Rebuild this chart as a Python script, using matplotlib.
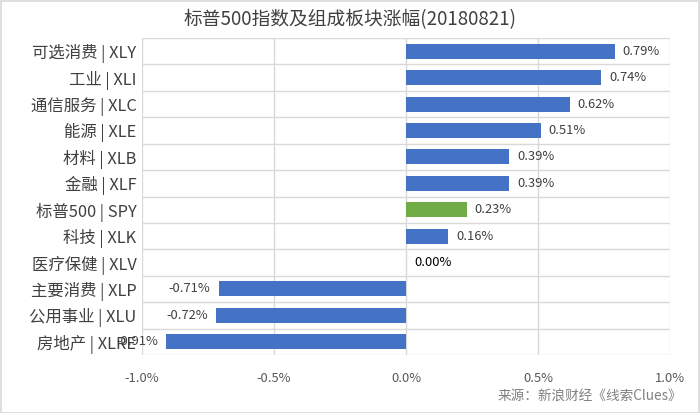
import matplotlib
matplotlib.use("Agg")
import matplotlib.pyplot as plt
from matplotlib.patches import Rectangle

plt.rcParams['font.family'] = ['Noto Sans CJK SC', 'DejaVu Sans']

categories = ["可选消费 | XLY", "工业 | XLI", "通信服务 | XLC", "能源 | XLE", "材料 | XLB",
              "金融 | XLF", "标普500 | SPY", "科技 | XLK", "医疗保健 | XLV",
              "主要消费 | XLP", "公用事业 | XLU", "房地产 | XLRE"]
values = [0.79, 0.74, 0.62, 0.51, 0.39, 0.39, 0.23, 0.16, 0.00, -0.71, -0.72, -0.91]
highlight = "标普500 | SPY"
xticks = [-1.0, -0.5, 0.0, 0.5, 1.0]
xtick_labels = ["-1.0%", "-0.5%", "0.0%", "0.5%", "1.0%"]
title = "标普500指数及组成板块涨幅(20180821)"
source = "来源：新浪财经《线索Clues》"

fig = plt.figure(figsize=(7, 4.13), dpi=100)
ax = fig.add_axes([142/700, 1-355/413, (670-142)/700, (355-38)/413])

n = len(categories)
ypos = list(range(n))
colors = ["#70AD47" if c == highlight else "#4472C4" for c in categories]
ax.barh(ypos, values, height=0.57, color=colors, zorder=3)

ax.set_xlim(-1.0, 1.0)
ax.set_ylim(n - 0.5, -0.5)
ax.set_yticks(ypos)
ax.set_yticklabels(categories, fontsize=11.8, color="#404040")
ax.set_xticks(xticks)
ax.set_xticklabels(xtick_labels, fontsize=9.3, color="#595959")
ax.tick_params(axis='both', length=0)
ax.tick_params(axis='x', pad=12)
ax.tick_params(axis='y', pad=4)
for s in ax.spines.values():
    s.set_visible(False)

grid_c = "#D9D9D9"
for xv in xticks:
    ax.axvline(xv, color=grid_c, lw=1, zorder=1)
for i in range(n + 1):
    ax.axhline(i - 0.5, color=grid_c, lw=1, zorder=1)

for y, v in zip(ypos, values):
    lab = f"{v:.2f}%"
    if v > 0:
        ax.text(v + 0.03, y, lab, va='center', ha='left', fontsize=9.3, color="#404040", zorder=4)
    elif v < 0:
        ax.text(v - 0.03, y, lab, va='center', ha='right', fontsize=9.3, color="#404040", zorder=4)
    else:
        ax.text(0.03, y, lab, va='center', ha='left', fontsize=9.3, color="#000000", zorder=4)

fig.text(0.5, 1 - 20/413, title, ha='center', va='center', fontsize=13.5, color="#404040")
fig.text(682/700, 1 - 397/413, source, ha='right', va='center', fontsize=9.8, color="#808080")

fig.patches.append(Rectangle((0.001, 0.001), 0.998, 0.997, transform=fig.transFigure,
                             fill=False, edgecolor="#D9D9D9", lw=1.2))

fig.savefig("out.png", dpi=100)
